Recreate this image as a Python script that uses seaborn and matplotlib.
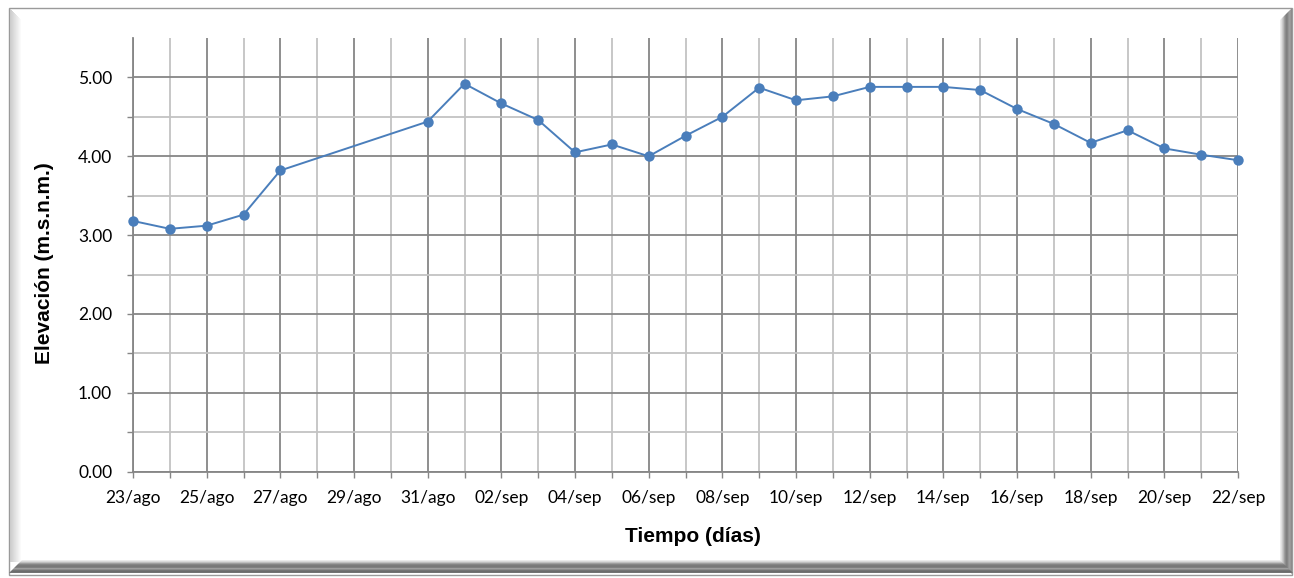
import numpy as np
import pandas as pd
import matplotlib
matplotlib.use("Agg")
import matplotlib.pyplot as plt
from matplotlib.ticker import FixedLocator, FixedFormatter
import seaborn as sns

# ---------------- data ----------------
dates = ["2013-08-23", "2013-08-24", "2013-08-25", "2013-08-26", "2013-08-27",
         "2013-08-31", "2013-09-01", "2013-09-02", "2013-09-03", "2013-09-04",
         "2013-09-05", "2013-09-06", "2013-09-07", "2013-09-08", "2013-09-09",
         "2013-09-10", "2013-09-11", "2013-09-12", "2013-09-13", "2013-09-14",
         "2013-09-15", "2013-09-16", "2013-09-17", "2013-09-18", "2013-09-19",
         "2013-09-20", "2013-09-21", "2013-09-22"]
elevation = [3.18, 3.08, 3.12, 3.26, 3.82,
             4.44, 4.92, 4.67, 4.46, 4.05,
             4.15, 4.00, 4.26, 4.50, 4.87,
             4.71, 4.76, 4.88, 4.88, 4.88,
             4.84, 4.60, 4.41, 4.17, 4.33,
             4.10, 4.02, 3.95]
tick_labels = ["23/ago", "25/ago", "27/ago", "29/ago", "31/ago", "02/sep",
               "04/sep", "06/sep", "08/sep", "10/sep", "12/sep", "14/sep",
               "16/sep", "18/sep", "20/sep", "22/sep"]
y_tick_labels = ["0.00", "1.00", "2.00", "3.00", "4.00", "5.00"]

d = pd.to_datetime(pd.Series(dates))
df = pd.DataFrame({"dia": (d - d.iloc[0]).dt.days, "elev": elevation})
n_days = int(df["dia"].max())

# ---------------- style ----------------
sns.set_style("white")
plt.rcParams["font.family"] = ["Lato", "DejaVu Sans"]
plt.rcParams["text.color"] = "black"

W, H = 1294, 578
fig = plt.figure(figsize=(W / 100, H / 100), dpi=100)

# background frame (pixel coordinates)
bg = fig.add_axes([0, 0, 1, 1], zorder=-10)
bg.set_xlim(0, W)
bg.set_ylim(H, 0)
bg.axis("off")
bg.add_patch(plt.Rectangle((9, 8), 1283, 567, facecolor="white",
                           edgecolor="#9a9a9a", lw=1.0))
for i, c in enumerate(np.linspace(0.80, 1.0, 12)):
    bg.add_patch(plt.Rectangle((10 + i, 9 + i), 1, 553 - i, color=str(c), lw=0))
right_cols = [0.93, 0.88, 0.80, 0.72, 0.62, 0.55, 0.50, 0.52, 0.58, 0.62, 0.60, 0.55]
for i, c in enumerate(right_cols):
    x = 1280 + i
    bg.add_patch(plt.Polygon([(x, 20 - i), (x + 1, 19 - i), (x + 1, 563 + i), (x, 562 + i)],
                             closed=True, color=str(c), lw=0))
bottom_cols = [0.92, 0.85, 0.75, 0.62, 0.52, 0.48, 0.47, 0.50, 0.62, 0.55, 0.45, 0.42, 0.45]
for i, c in enumerate(bottom_cols):
    y = 560 + i
    bg.add_patch(plt.Polygon([(22 - i, y), (1280 + i, y), (1281 + i, y + 1), (21 - i, y + 1)],
                             closed=True, color=str(c), lw=0))

# main axes
left, right_px, top_px, bottom_px = 133, 1238, 38, 471.7
ax = fig.add_axes([left / W, (H - bottom_px) / H, (right_px - left) / W,
                   (bottom_px - top_px) / H])
ax.set_facecolor("none")

sns.lineplot(data=df, x="dia", y="elev", ax=ax, color="#4a7ebb", lw=1.4,
             marker="o", markersize=7.5, markeredgewidth=0,
             markeredgecolor="#4a7ebb", zorder=5, clip_on=False)

ax.set_xlim(0, n_days)
ax.set_ylim(0, 5.5)

major_x = list(range(0, n_days + 1, 2))
minor_x = list(range(1, n_days, 2))
ax.xaxis.set_major_locator(FixedLocator(major_x))
ax.xaxis.set_major_formatter(FixedFormatter(tick_labels))
ax.xaxis.set_minor_locator(FixedLocator(minor_x))
ax.yaxis.set_major_locator(FixedLocator([0, 1, 2, 3, 4, 5]))
ax.yaxis.set_major_formatter(FixedFormatter(y_tick_labels))
ax.yaxis.set_minor_locator(FixedLocator([0.5, 1.5, 2.5, 3.5, 4.5]))

dark = "#868686"
light = "#c3c3c3"
ax.grid(which="major", color=dark, lw=1.3)
ax.grid(which="minor", color=light, lw=1.3)
ax.set_axisbelow(True)

for s in ["top", "right"]:
    ax.spines[s].set_visible(False)
for s in ["left", "bottom"]:
    ax.spines[s].set_color(dark)
    ax.spines[s].set_linewidth(1.3)

ax.tick_params(axis="x", which="both", length=4, width=1.0, color=dark,
               direction="out", bottom=True, pad=9, labelsize=12.5, labelcolor="black")
ax.tick_params(axis="y", which="both", length=4, width=1.0, color=dark,
               direction="out", left=True, pad=11, labelsize=12.5, labelcolor="black")

ax.set_xlabel("")
ax.set_ylabel("")
fig.text(693 / W, 1 - 536 / H, "Tiempo (días)", ha="center", va="center",
         fontsize=15, fontweight="bold", color="black",
         family=["Liberation Sans", "DejaVu Sans"])
fig.text(45 / W, 1 - 263 / H, "Elevación (m.s.n.m.)", ha="center", va="center",
         rotation=90, fontsize=15, fontweight="bold", color="black",
         family=["Liberation Sans", "DejaVu Sans"])

fig.savefig("out.png", dpi=100)
